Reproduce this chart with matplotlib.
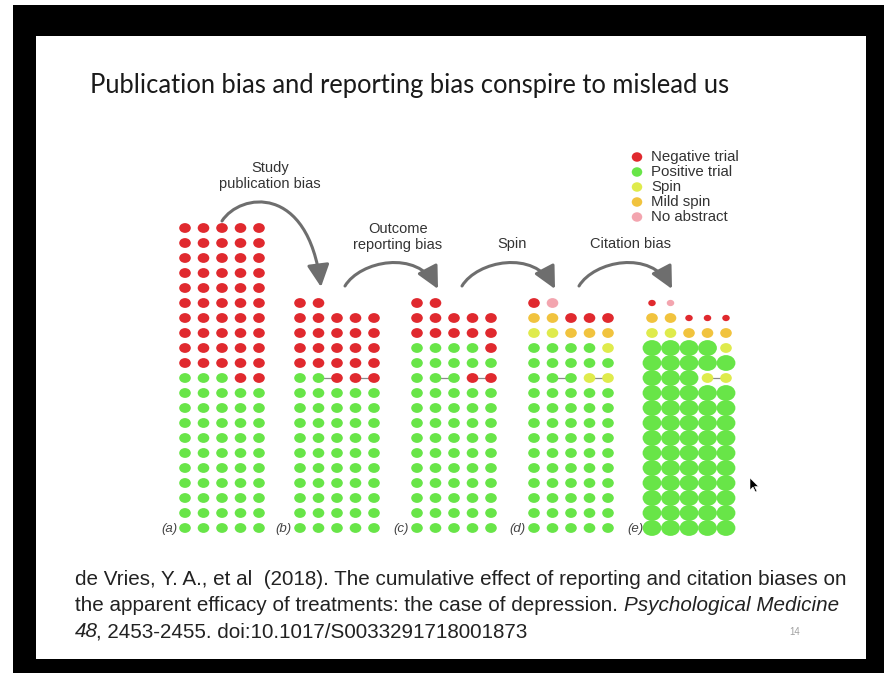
import matplotlib
matplotlib.use('Agg')
import matplotlib.pyplot as plt
from matplotlib.patches import Ellipse, Rectangle, FancyArrowPatch, Polygon
from matplotlib.path import Path

plt.rcParams['font.family'] = ['Liberation Sans', 'DejaVu Sans']

# ---------------- data ----------------
title = 'Publication bias and reporting bias conspire to mislead us'
panel_labels = ['(a)', '(b)', '(c)', '(d)', '(e)']
step_labels = ['Study\npublication bias', 'Outcome\nreporting bias', 'Spin', 'Citation bias']
legend_codes = ['N', 'P', 'S', 'M', 'A']
legend_labels = ['Negative trial', 'Positive trial', 'Spin', 'Mild spin', 'No abstract']

# each panel: rows from top to bottom, one letter per trial
panel_a = ['NNNNN'] * 10 + ['PPPNN'] + ['PPPPP'] * 10
panel_b = ['NN'] + ['NNNNN'] * 4 + ['PPNNN'] + ['PPPPP'] * 10
panel_c = ['NN', 'NNNNN', 'NNNNN', 'PPPPN', 'PPPPP', 'PPPNN'] + ['PPPPP'] * 10
panel_d = ['NA', 'MMNNN', 'SSMMM', 'PPPPS', 'PPPPP', 'PPPSS'] + ['PPPPP'] * 10
panel_e = ['NA', 'MMNNN', 'SSMMM', 'PPPPS', 'PPPPP', 'PPPSS'] + ['PPPPP'] * 10
panels = [panel_a, panel_b, panel_c, panel_d, panel_e]

# citation weight in panel (e): 1 = few, 2 = medium, 3 = many
cites_e = ['11', '22111', '22222', '33332', '33333', '33322'] + ['33333'] * 10

# linked trial pairs: (row from top, col, col)
links = [[], [(5, 1, 2), (5, 3, 4)], [(5, 1, 2), (5, 3, 4)],
         [(5, 1, 2), (5, 3, 4)], [(5, 1, 2), (5, 3, 4)]]

citation = ['de Vries, Y. A., et al  (2018). The cumulative effect of reporting and citation biases on',
            'the apparent efficacy of treatments: the case of depression. ',
            '2453-2455. doi:10.1017/S0033291718001873']
journal = 'Psychological Medicine'
volume = '48'
page_no = '14'

# ---------------- style ----------------
colors = {'N': '#E0292E', 'P': '#68E548', 'S': '#DFEB4C', 'M': '#F1C33E', 'A': '#F3A5AF'}
sizes = {'1': (7.5, 6.3), '2': (11.6, 9.8), '3': (18.8, 15.8)}
panel_x0 = [185, 300, 417, 534, 652]
DX, DY, Y_BOTTOM = 18.5, 15.0, 528

fig = plt.figure(figsize=(8.84, 6.73), dpi=100)
ax = fig.add_axes([0, 0, 1, 1])
ax.set_xlim(0, 884)
ax.set_ylim(673, 0)
ax.axis('off')
fig.patch.set_facecolor('white')

# slide frame
ax.add_patch(Rectangle((13, 5), 871, 668, facecolor='black', edgecolor='none', zorder=0))
ax.add_patch(Rectangle((36, 36), 830, 623, facecolor='white', edgecolor='none', zorder=0.5))

ax.text(90, 93, title, fontsize=18.4, family=['Lato', 'DejaVu Sans'], color='#1a1a1a',
        ha='left', va='baseline', zorder=3)

# dots
for p, rows in enumerate(panels):
    n = len(rows)
    for r, row in enumerate(rows):
        y = Y_BOTTOM - (n - 1 - r) * DY
        for c, code in enumerate(row):
            x = panel_x0[p] + c * DX
            w = cites_e[r][c] if p == 4 else '2'
            ew, eh = sizes[w]
            ax.add_patch(Ellipse((x, y), ew, eh, facecolor=colors[code], edgecolor='none', zorder=3))
    for (r, c1, c2) in links[p]:
        y = Y_BOTTOM - (n - 1 - r) * DY
        ax.plot([panel_x0[p] + c1 * DX, panel_x0[p] + c2 * DX], [y, y], color='#8a8a8a', lw=0.9, zorder=2)
    ax.text(panel_x0[p] - 8, Y_BOTTOM + 1, panel_labels[p], fontsize=9.5, style='italic', color='#444444',
            ha='right', va='center', zorder=3)

# arrows (curved)
arrow_kw = dict(arrowstyle='-|>,head_length=0.9,head_width=0.45', mutation_scale=15,
                color='#6e6e6e', lw=2.2, zorder=2)
p1 = Path([(222, 221), (240, 193), (308, 183), (321, 287)],
          [Path.MOVETO, Path.CURVE4, Path.CURVE4, Path.CURVE4])
ax.add_patch(FancyArrowPatch(path=p1, **arrow_kw))
for sx in [345, 462, 579]:
    pp = Path([(sx, 286), (sx + 15, 261), (sx + 72, 249), (sx + 93, 289)],
              [Path.MOVETO, Path.CURVE4, Path.CURVE4, Path.CURVE4])
    ax.add_patch(FancyArrowPatch(path=pp, **arrow_kw))

step_pos = [(270, 176), (398, 237), (512, 244), (631, 244)]
for (x, y), lab in zip(step_pos, step_labels):
    ax.text(x, y, lab, fontsize=10.5, color='#333333', ha='center', va='center',
            linespacing=1.1, zorder=3)

# legend
for i, (code, lab) in enumerate(zip(legend_codes, legend_labels)):
    y = 157 + i * 15
    ax.add_patch(Ellipse((637, y), 10.5, 9.5, facecolor=colors[code], edgecolor='none', zorder=3))
    ax.text(651, y, lab, fontsize=10.8, color='#333333', ha='left', va='center', zorder=3)

# citation
cit_kw = dict(fontsize=14.9, color='#222222', va='baseline', zorder=3,
              family=['Liberation Sans', 'DejaVu Sans'])
t1 = ax.text(75, 585, citation[0], **cit_kw)
t2 = ax.text(75, 611, citation[1], **cit_kw)
fig.canvas.draw()
r = fig.canvas.get_renderer()
bb = t2.get_window_extent(r)
x_end = ax.transData.inverted().transform((bb.x1, bb.y0))[0]
ax.text(x_end, 611, journal, style='italic', **cit_kw)
t3 = ax.text(75, 637, volume, style='italic', **cit_kw)
bb = t3.get_window_extent(r)
x_end = ax.transData.inverted().transform((bb.x1, bb.y0))[0]
ax.text(x_end - 2, 637, ', ' + citation[2], **cit_kw)

ax.text(795, 632, page_no, fontsize=7, color='#a0a0a0', ha='center', va='center', zorder=3)

# mouse pointer
ax.add_patch(Polygon([(750, 478), (750, 490), (753, 487), (755.5, 492), (757, 491.3),
                      (754.6, 486.5), (758.5, 486.5)], closed=True,
                     facecolor='black', edgecolor='white', lw=0.4, zorder=4))

fig.savefig('out.png', dpi=100)
